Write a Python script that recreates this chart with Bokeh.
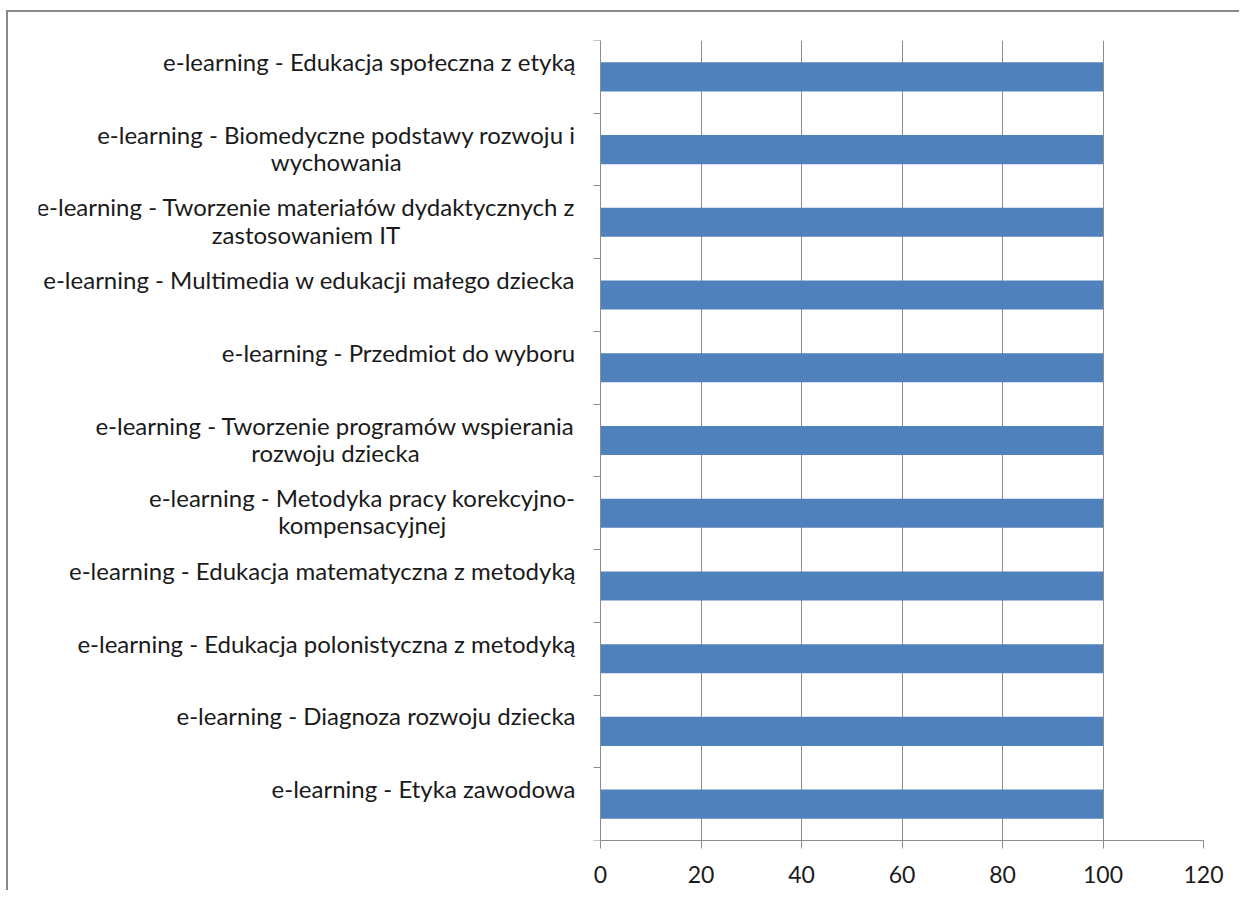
from bokeh.plotting import figure
from bokeh.models import FixedTicker, Range1d, ColumnDataSource
from bokeh.core.properties import value
from bokeh.embed import file_html
from bokeh.resources import INLINE

categories = [
    "e-learning - Edukacja społeczna z etyką",
    "e-learning - Biomedyczne podstawy rozwoju i\nwychowania",
    "e-learning - Tworzenie materiałów dydaktycznych z\nzastosowaniem IT",
    "e-learning - Multimedia w edukacji małego dziecka",
    "e-learning - Przedmiot do wyboru",
    "e-learning - Tworzenie programów wspierania\nrozwoju dziecka",
    "e-learning - Metodyka pracy korekcyjno-\nkompensacyjnej",
    "e-learning - Edukacja matematyczna z metodyką",
    "e-learning - Edukacja polonistyczna z metodyką",
    "e-learning - Diagnoza rozwoju dziecka",
    "e-learning - Etyka zawodowa",
]
values = [100, 100, 100, 100, 100, 100, 100, 100, 100, 100, 100]
x_ticks = [0, 20, 40, 60, 80, 100, 120]

n = len(categories)
# category i (top to bottom) sits in band [n-i-1, n-i]; centre n-i-0.5
centers = [n - i - 0.5 for i in range(n)]
bounds = list(range(n + 1))
x_max = x_ticks[-1]

# layout in pixels (canvas)
W, H = 1233, 880
FRAME_L, AXIS_X, FRAME_R = 30, 592, 1195
FRAME_T, FRAME_B = 28, 828
x_min = -x_max * (AXIS_X - FRAME_L) / (FRAME_R - AXIS_X)

FONT = "Lato"
GRID = "#8c8c8c"

src = ColumnDataSource(dict(y=centers, value=values, label=categories,
                            zero=[0] * n))

p = figure(width=W, height=H, output_backend="svg", toolbar_location=None,
           x_range=Range1d(x_min, x_max), y_range=Range1d(0, n),
           min_border_left=FRAME_L, min_border_right=W - FRAME_R,
           min_border_top=FRAME_T, min_border_bottom=H - FRAME_B)
p.styles = {"border-left": "2px solid #8a8a8a", "border-top": "2px solid #8a8a8a",
            "margin-left": "6px", "margin-top": "10px"}

p.hbar(y="y", right="value", left=0, height=0.4, source=src,
       color="#4f81bd", line_color=None)
p.text(x="zero", y="y", text="label", source=src, x_offset=-25, y_offset=-30,
       anchor="top_right", text_align="center", text_baseline="middle",
       text_font=value(FONT), text_font_size="24px", text_color="#1a1a1a",
       text_line_height=0.94)

p.outline_line_color = None
p.ygrid.grid_line_color = None
p.xgrid.grid_line_color = GRID
p.xgrid.grid_line_width = 1

p.xaxis.ticker = FixedTicker(ticks=x_ticks)
p.xaxis.bounds = (0, x_max)
p.xaxis.axis_line_color = GRID
p.xaxis.major_tick_line_color = GRID
p.xaxis.major_tick_out = 8
p.xaxis.major_tick_in = 0
p.xaxis.minor_tick_line_color = None
p.xaxis.major_label_text_font = FONT
p.xaxis.major_label_text_font_size = "23px"
p.xaxis.major_label_text_color = "#1a1a1a"
p.xaxis.major_label_standoff = 17

p.yaxis.fixed_location = 0
p.yaxis.ticker = FixedTicker(ticks=[], minor_ticks=bounds)
p.yaxis.major_label_text_font_size = "0px"
p.yaxis.major_label_standoff = 0
p.yaxis.axis_line_color = GRID
p.yaxis.major_tick_line_color = None
p.yaxis.minor_tick_line_color = GRID
p.yaxis.minor_tick_out = 7
p.yaxis.minor_tick_in = 0

open("out.html", "w").write(file_html(p, INLINE))
